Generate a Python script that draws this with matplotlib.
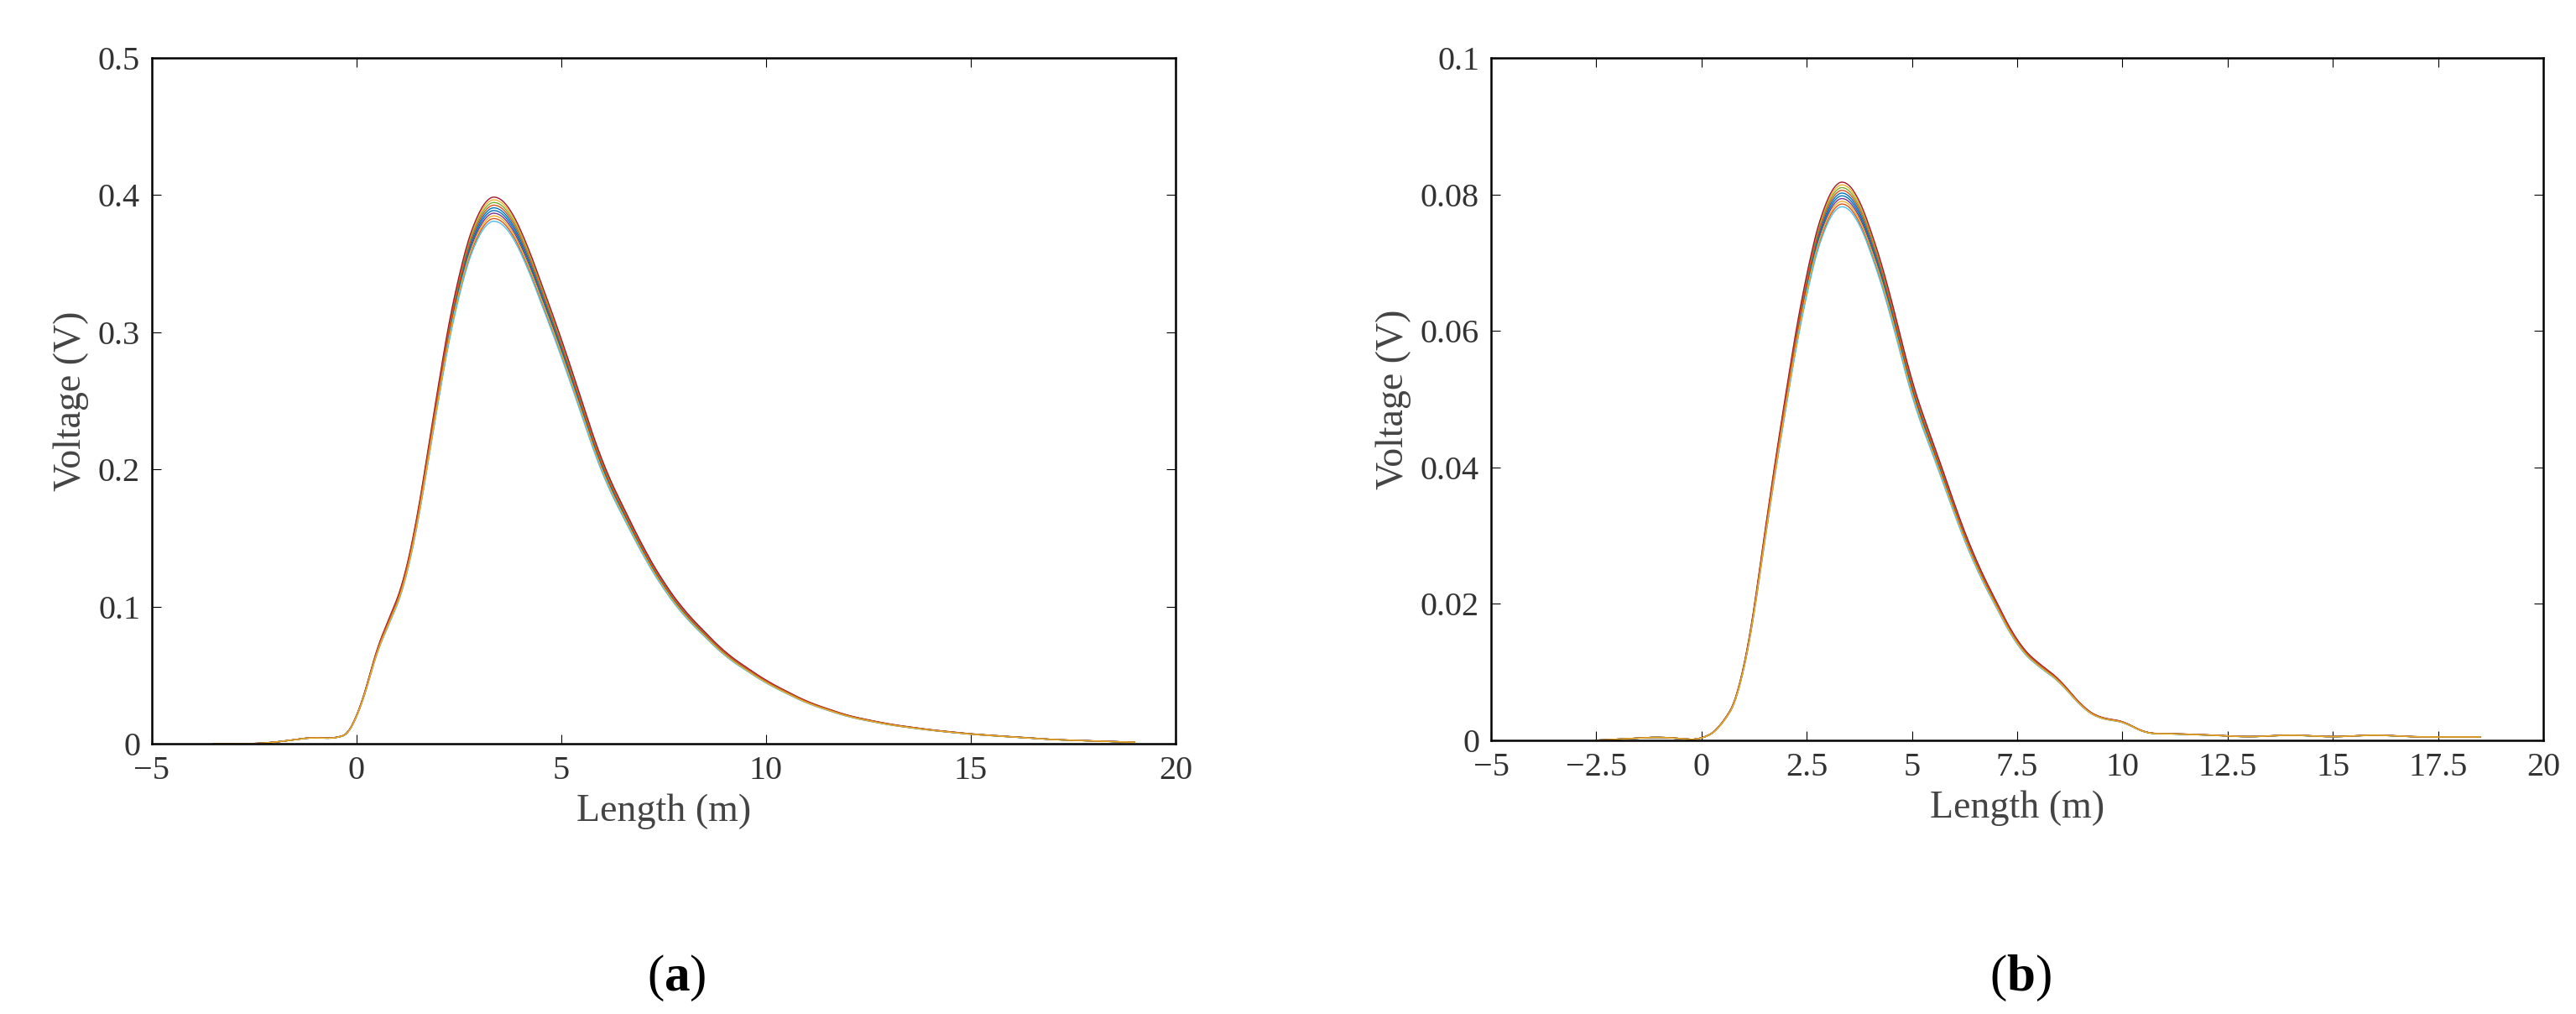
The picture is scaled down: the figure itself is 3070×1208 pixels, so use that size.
import matplotlib
matplotlib.use("Agg")
import matplotlib.pyplot as plt
import numpy as np

plt.rcParams['font.family'] = ['Liberation Serif', 'DejaVu Serif']
plt.rcParams['mathtext.fontset'] = 'custom'
plt.rcParams['mathtext.rm'] = 'Liberation Serif'
plt.rcParams['mathtext.bf'] = 'Liberation Serif:bold'

# Panel (a) base curve
xa = [-3.5, -2.5, -2.0, -1.5, -1.0, -0.5, 0.0, 0.3, 0.6, 1.0, 1.3, 1.7, 2.0, 2.5, 3.0, 3.3, 3.6, 4.0, 4.5, 5.0,
      5.5, 6.0, 6.5, 7.0, 7.5, 8.0, 9.0, 10.0, 11.0, 12.0, 13.0, 14.0, 15.0, 16.0, 17.0, 18.0, 19.0]
ya = [0.0, 0.0, 0.001, 0.003, 0.005, 0.003, 0.01, 0.05, 0.08, 0.1, 0.13, 0.2, 0.26, 0.34, 0.385, 0.395, 0.39, 0.37, 0.33, 0.29,
      0.245, 0.20, 0.17, 0.14, 0.115, 0.095, 0.065, 0.045, 0.03, 0.02, 0.014, 0.01, 0.007, 0.005, 0.003, 0.002, 0.001]
# Panel (b) base curve
xb = [-2.5, -1.0, 0.0, 0.5, 1.0, 1.5, 2.0, 2.5, 3.0, 3.3, 3.6, 4.0, 4.5, 5.0, 5.5, 6.0, 6.5, 7.0, 7.5, 8.0,
      8.5, 9.0, 9.5, 10.0, 10.5, 11.0, 12.0, 13.0, 14.0, 15.0, 16.0, 17.0, 18.5]
yb = [0.0, 0.0005, 0.0, 0.002, 0.008, 0.03, 0.05, 0.068, 0.079, 0.081, 0.080, 0.074, 0.064, 0.051, 0.043, 0.034, 0.026, 0.020, 0.014, 0.011,
      0.009, 0.005, 0.003, 0.003, 0.001, 0.001, 0.0008, 0.0005, 0.0008, 0.0005, 0.0008, 0.0005, 0.0005]
# Per-measurement amplitude scales (repeated measurements)
scales = [1.00, 0.98, 1.015, 0.99, 1.01, 0.975, 1.02, 0.995, 1.005, 0.985]
colors = ['#0072BD', '#D95319', '#EDB120', '#7E2F8E', '#77AC30', '#4DBEEE', '#A2142F', '#0072BD', '#D95319', '#EDB120']

fig = plt.figure(figsize=(30.70, 12.08), dpi=100)
axa = fig.add_axes([181/3070, 1-886/1208, 1220/3070, 817/1208])
axb = fig.add_axes([1777/3070, 1-882/1208, 1254/3070, 813/1208])

def draw(ax, x, y, ylim, yticks, xticks, xticklabels, yticklabels):
    xf = np.linspace(x[0], x[-1], 800)
    yf = np.interp(xf, x, y)
    k = np.ones(25) / 25
    yf = np.convolve(np.pad(yf, 12, mode='edge'), k, mode='valid')
    for s, c in zip(scales, colors):
        ax.plot(xf, yf * s, color=c, lw=1.0)
    ax.set_xlim(-5, 20)
    ax.set_ylim(*ylim)
    ax.set_xticks(xticks)
    ax.set_xticklabels(xticklabels)
    ax.set_yticks(yticks)
    ax.set_yticklabels(yticklabels)
    ax.tick_params(labelsize=29, direction='in', length=8, top=True, right=True, pad=10, labelcolor='#333333')
    for sp in ax.spines.values():
        sp.set_linewidth(1.8)
    ax.set_xlabel('Length (m)', fontsize=33, color='#444444', labelpad=6)
    ax.set_ylabel('Voltage (V)', fontsize=33, color='#444444', labelpad=8)

draw(axa, xa, ya, (0, 0.5), [0, 0.1, 0.2, 0.3, 0.4, 0.5], [-5, 0, 5, 10, 15, 20],
     ['−5', '0', '5', '10', '15', '20'], ['0', '0.1', '0.2', '0.3', '0.4', '0.5'])
draw(axb, xb, yb, (0, 0.1), [0, 0.02, 0.04, 0.06, 0.08, 0.1],
     [-5, -2.5, 0, 2.5, 5, 7.5, 10, 12.5, 15, 17.5, 20],
     ['−5', '−2.5', '0', '2.5', '5', '7.5', '10', '12.5', '15', '17.5', '20'],
     ['0', '0.02', '0.04', '0.06', '0.08', '0.1'])

for cx, t in [(806, 'a'), (2408, 'b')]:
    fig.text(cx/3070, 1-1165/1208, r'($\mathbf{%s}$)' % t, fontsize=44, ha='center', va='center')

fig.savefig('out.png', dpi=100)
